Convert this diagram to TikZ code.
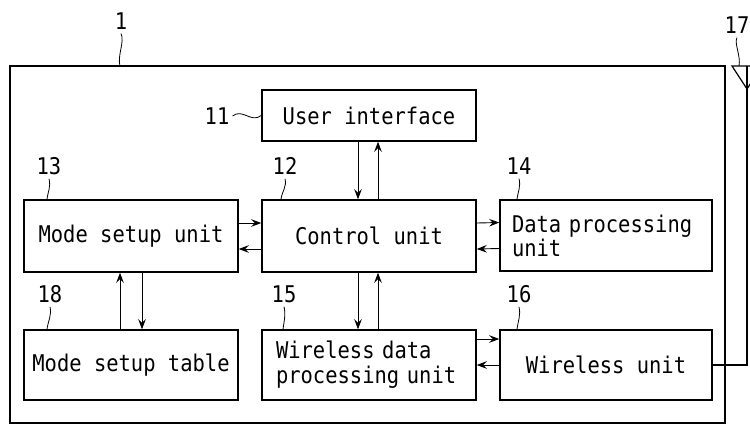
\documentclass[tikz,border=0pt]{standalone}
\usepackage{fontspec}
\newfontfamily\pf{DejaVu Sans Mono}[FakeStretch=0.89]
\usetikzlibrary{arrows.meta}
\begin{document}
\begin{tikzpicture}[x=1pt,y=-1pt,
  box/.style={draw,line width=1.5pt,inner sep=0pt,font=\pf\fontsize{23}{25}\selectfont},
  lbl/.style={inner sep=0pt,font=\pf\fontsize{23}{25}\selectfont},
  arr/.style={line width=0.9pt,-{Stealth[length=10pt,width=7.5pt,inset=3.5pt]}},
  lead/.style={line width=0.8pt},
  wire/.style={line width=1.2pt}]
\useasboundingbox (0,0) rectangle (750,424);
\fill[white] (0,0) rectangle (750,424);
% outer frame
\draw[line width=1.6pt] (10,66) rectangle (725,423);
% boxes
\node[box,minimum width=214pt,minimum height=51pt] (ui) at (369,115.5) {User interface};
\node[box,minimum width=214pt,minimum height=72pt] (ctrl) at (369,236) {Control unit};
\node[box,minimum width=214pt,minimum height=72pt] (mode) at (131,236) {Mode setup unit};
\node[box,minimum height=71pt,inner xsep=12pt,text width=188pt,align=left] (data) at (606,235.5) {Data processing\\[-1pt]unit};
\node[box,minimum width=214pt,minimum height=70pt] (table) at (131,365) {Mode setup table};
\node[box,minimum height=70pt,inner xsep=14pt,text width=186pt,align=left] (wdp) at (369,365) {Wireless data\\[0pt]processing unit};
\node[box,minimum width=212pt,minimum height=70pt] (wu) at (606,365) {Wireless unit};
% arrows
\draw[arr] ([xshift=-11pt]ui.south) -- ([xshift=-11pt]ctrl.north);
\draw[arr] ([xshift=9pt]ctrl.north) -- ([xshift=9pt]ui.south);
\draw[arr] ([yshift=13pt]mode.east) -- ([yshift=13pt]ctrl.west);
\draw[arr] ([yshift=-13pt]ctrl.west) -- ([yshift=-13pt]mode.east);
\draw[arr] ([yshift=13pt]ctrl.east) -- ([yshift=13pt]data.west);
\draw[arr] ([yshift=-13pt]data.west) -- ([yshift=-13pt]ctrl.east);
\draw[arr] ([xshift=-11pt]ctrl.south) -- ([xshift=-11pt]wdp.north);
\draw[arr] ([xshift=9pt]wdp.north) -- ([xshift=9pt]ctrl.south);
\draw[arr] ([xshift=11pt]mode.south) -- ([xshift=11pt]table.north);
\draw[arr] ([xshift=-11pt]table.north) -- ([xshift=-11pt]mode.south);
\draw[arr] ([yshift=26pt]wdp.east) -- ([yshift=26pt]wu.west);
\draw[arr] (wu.west) -- (wdp.east);
% antenna
\coordinate (anttop) at (747,66);
\draw[wire] (wu.east) -| (anttop);
\draw[wire] (732,66) -- (762,66) -- (747,89) -- cycle;
% labels
\node[lbl] (l1) at (121,21) {1};
\node[lbl] (l17) at (737,25) {17};
\node[lbl] (l11) at (217,116) {11};
\node[lbl] (l13) at (49,166) {13};
\node[lbl] (l12) at (285,166) {12};
\node[lbl] (l14) at (519,166) {14};
\node[lbl] (l18) at (50,294) {18};
\node[lbl] (l15) at (284,294) {15};
\node[lbl] (l16) at (519,294) {16};
% leaders
\draw[lead] ([yshift=-4pt]l1.south) .. controls +(4,8) and +(-3,-10) .. (120,66);
\draw[lead] ([yshift=-4pt]l17.south) .. controls +(-3,6) and +(2,-10) .. (739,66);
\draw[lead] ([xshift=3pt]l11.east) .. controls +(10,-8) and +(-10,8) .. (ui.west);
\draw[lead] ([yshift=-4pt]l13.south) .. controls +(2,8) and +(1,-8) .. ([xshift=-84pt]mode.north);
\draw[lead] ([yshift=-4pt]l12.south) .. controls +(2,8) and +(1,-8) .. ([xshift=-88pt]ctrl.north);
\draw[lead] ([yshift=-4pt]l14.south) .. controls +(2,8) and +(1,-8) .. ([xshift=-89pt]data.north);
\draw[lead] ([yshift=-4pt]l18.south) .. controls +(2,8) and +(1,-8) .. ([xshift=-84pt]table.north);
\draw[lead] ([yshift=-4pt]l15.south) .. controls +(2,8) and +(1,-8) .. ([xshift=-86pt]wdp.north);
\draw[lead] ([yshift=-4pt]l16.south) .. controls +(2,8) and +(1,-8) .. ([xshift=-89pt]wu.north);
\end{tikzpicture}
\end{document}
